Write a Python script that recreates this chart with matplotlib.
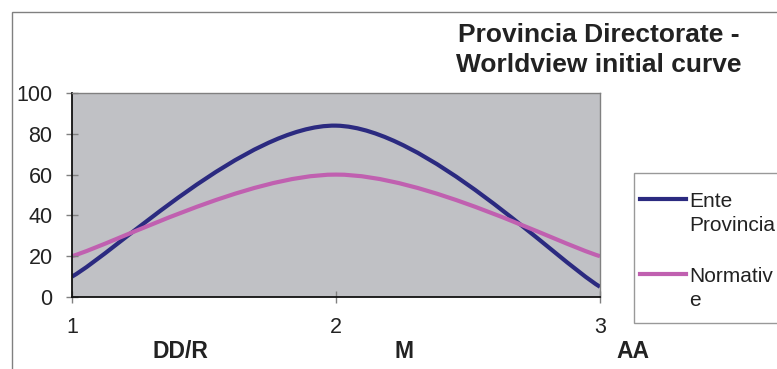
import numpy as np
import matplotlib.pyplot as plt
from matplotlib.path import Path
from matplotlib.patches import PathPatch, Rectangle
from matplotlib.lines import Line2D

plt.rcParams['font.family'] = ['Liberation Sans', 'DejaVu Sans']

x_vals = [1, 2, 3]
ente = [10, 84, 5]
normative = [20, 60, 20]
series_names = ['Ente\nProvincia', 'Normativ\ne']
categories = ['DD/R', 'M', 'AA']
title = 'Provincia Directorate -\nWorldview initial curve'

navy = '#2b2a80'
magenta = '#c060b0'


def smooth_path(xs, ys):
    # bezier segments with catmull-rom style tangents (like a smoothed line)
    pts = np.column_stack([xs, ys]).astype(float)
    n = len(pts)
    verts = [pts[0]]
    codes = [Path.MOVETO]
    for i in range(n - 1):
        p_prev = pts[i - 1] if i > 0 else pts[i]
        p_next = pts[i + 2] if i + 2 < n else pts[i + 1]
        c1 = pts[i] + (pts[i + 1] - p_prev) / 6.0
        c2 = pts[i + 1] - (p_next - pts[i]) / 6.0
        verts += [c1, c2, pts[i + 1]]
        codes += [Path.CURVE4] * 3
    return Path(verts, codes)


fig = plt.figure(figsize=(7.77, 3.69), dpi=100)
W, H = 777.0, 369.0

# outer chart frame
fig.patches.append(Rectangle((12 / W, -0.1), 1.0, 1 - 12 / H + 0.1, transform=fig.transFigure,
                             fill=False, edgecolor='#808080', linewidth=1.0))

ax = fig.add_axes([72 / W, 72 / H, 528 / W, 204 / H])
ax.set_facecolor('#c0c1c5')

for ys, col in [(ente, navy), (normative, magenta)]:
    ax.add_patch(PathPatch(smooth_path(x_vals, ys), facecolor='none', edgecolor=col,
                           linewidth=3.0, capstyle='butt'))

ax.set_xlim(1, 3)
ax.set_ylim(0, 100)
ax.set_xticks(x_vals)
ax.set_yticks(range(0, 101, 20))
ax.tick_params(direction='inout', length=9, width=1, color='#808080',
               labelsize=15.5, colors='#222222', labelcolor='#222222')
ax.tick_params(axis='x', pad=10)
ax.tick_params(axis='y', pad=9.5)
for s in ['top', 'right']:
    ax.spines[s].set_color('#808080')
    ax.spines[s].set_linewidth(1.0)
for s in ['left', 'bottom']:
    ax.spines[s].set_color('#111111')
    ax.spines[s].set_linewidth(1.3)

# category labels under the axis
for cx, name in zip([180, 404, 633], categories):
    fig.text(cx / W, 1 - 351 / H, name, ha='center', va='center',
             fontsize=16.5, fontweight='bold', color='#222222')

fig.text(599 / W, 1 - 50 / H, title, ha='center', va='center', fontsize=19,
         fontweight='bold', color='#222222', linespacing=1.32)

# legend box
fig.patches.append(Rectangle((634 / W, 1 - 323 / H), 0.3, 150 / H, transform=fig.transFigure,
                             facecolor='white', edgecolor='#999999', linewidth=1.0))
for ly, name, col in [(199, series_names[0], navy), (274, series_names[1], magenta)]:
    fig.lines.append(Line2D([640 / W, 686 / W], [1 - ly / H] * 2, transform=fig.transFigure,
                            color=col, linewidth=3.0))
    fig.text(689 / W, 1 - (ly - 7) / H, name, ha='left', va='top', fontsize=15,
             color='#222222', linespacing=1.3)

fig.savefig('out.png', dpi=100)
